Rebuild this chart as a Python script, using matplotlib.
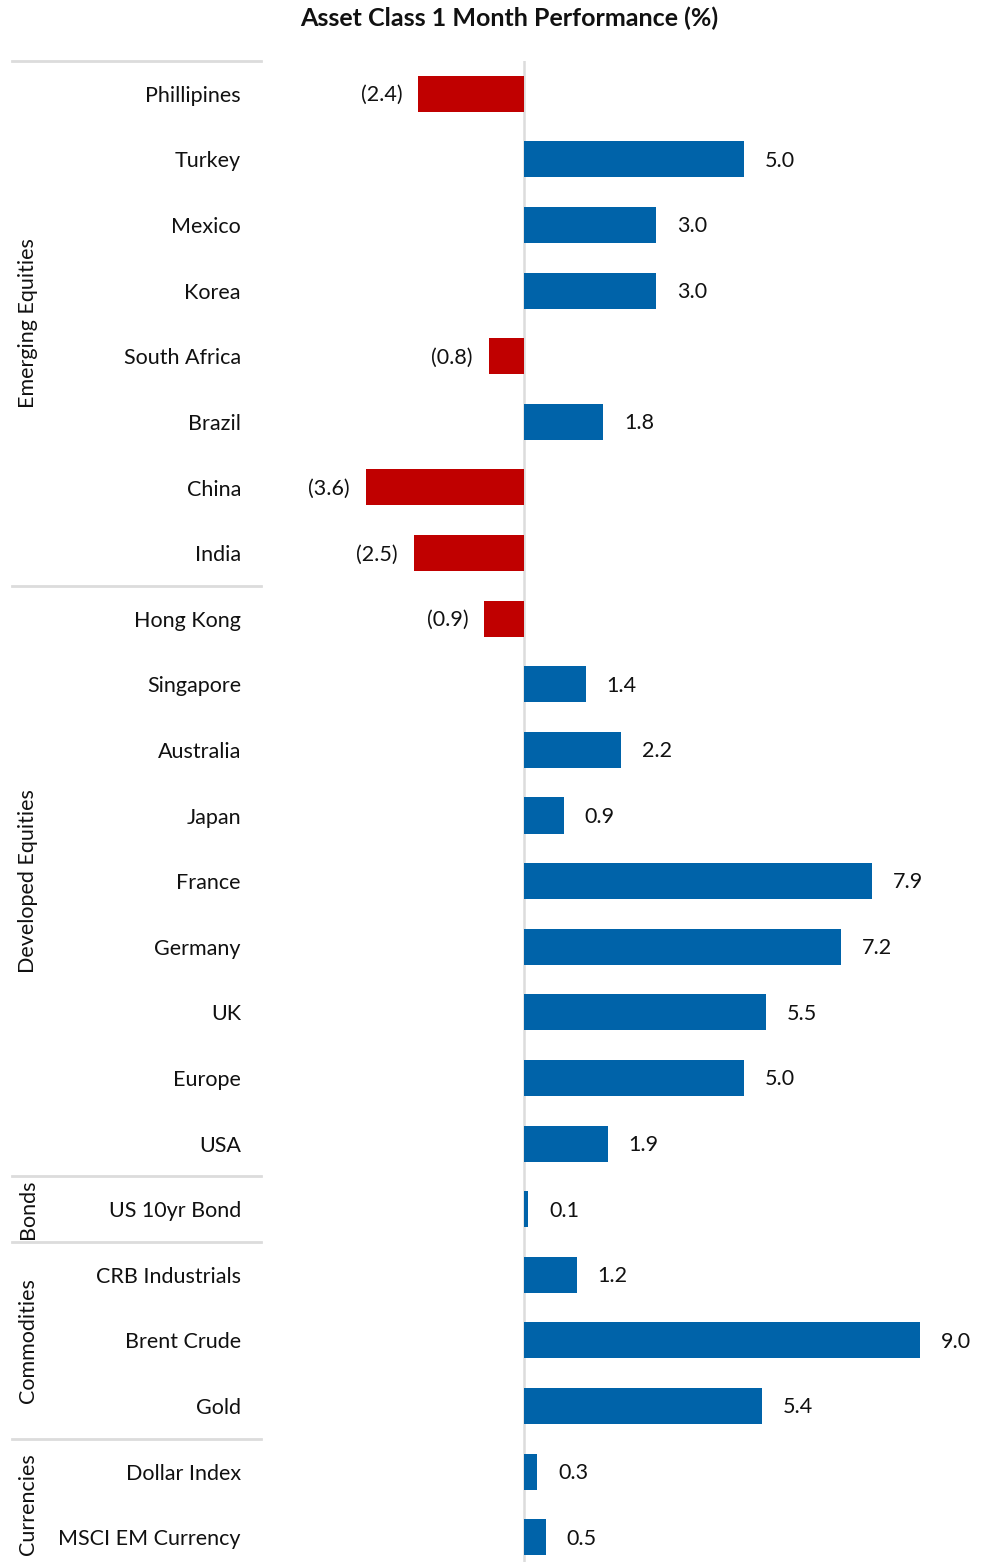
import matplotlib
matplotlib.use("Agg")
import matplotlib.pyplot as plt
import matplotlib.transforms as mtrans

plt.rcParams['font.family'] = ['Lato', 'DejaVu Sans']

categories = ["Phillipines", "Turkey", "Mexico", "Korea", "South Africa", "Brazil",
              "China", "India", "Hong Kong", "Singapore", "Australia", "Japan",
              "France", "Germany", "UK", "Europe", "USA", "US 10yr Bond",
              "CRB Industrials", "Brent Crude", "Gold", "Dollar Index", "MSCI EM Currency"]
values = [-2.4, 5.0, 3.0, 3.0, -0.8, 1.8, -3.6, -2.5, -0.9, 1.4, 2.2, 0.9,
          7.9, 7.2, 5.5, 5.0, 1.9, 0.1, 1.2, 9.0, 5.4, 0.3, 0.5]
groups = ["Emerging Equities", "Developed Equities", "Bonds", "Commodities", "Currencies"]
group_sizes = [8, 9, 1, 3, 2]
title = "Asset Class 1 Month Performance (%)"

POS = "#0063A9"
NEG = "#C00000"
GRID = "#DCDCDC"
FS = 15.5

W, H = 987, 1562
fig = plt.figure(figsize=(W / 100, H / 100), dpi=100)
ax_left, ax_right, ax_top, ax_bot = 260, 980, 61, 1570
ax = fig.add_axes([ax_left / W, (H - ax_bot) / H, (ax_right - ax_left) / W, (ax_bot - ax_top) / H])

n = len(categories)
ypos = list(range(n))
colors = [POS if v >= 0 else NEG for v in values]
ax.barh(ypos, values, height=0.55, color=colors, zorder=2)
ax.axvline(0, color=GRID, lw=1.8, zorder=1)

px_per_unit = 44.0
ax.set_xlim(-(524 - ax_left) / px_per_unit, (ax_right - 524) / px_per_unit)
ax.set_ylim(n - 0.5, -0.5)
ax.axis('off')

for y, v in zip(ypos, values):
    if v >= 0:
        ax.annotate(f"{v:.1f}", (v, y), xytext=(15, -1), textcoords='offset points',
                    ha='left', va='center', fontsize=FS, color='#111111')
    else:
        ax.annotate(f"({abs(v):.1f})", (v, y), xytext=(-11.5, -1), textcoords='offset points',
                    ha='right', va='center', fontsize=FS, color='#111111')

blend = mtrans.blended_transform_factory(fig.transFigure, ax.transData)
blend_lab = mtrans.offset_copy(blend, fig=fig, y=-1.5, units='points')
for y, c in zip(ypos, categories):
    fig.text(241 / W, y, c, transform=blend_lab, ha='right', va='center', fontsize=FS, color='#111111')

start = 0
boundaries = [-0.5]
for g, s in zip(groups, group_sizes):
    center = start + (s - 1) / 2
    fig.text(28 / W, center, g, transform=blend, rotation=90, ha='center', va='center',
             fontsize=FS, color='#111111')
    start += s
    boundaries.append(start - 0.5)

for b in boundaries[:-1]:
    line = plt.Line2D([12 / W, 261 / W], [b, b], transform=blend, color=GRID, lw=2)
    fig.add_artist(line)

fig.text(509 / W, 1 - 18 / H, title, ha='center', va='center', fontsize=18,
         fontweight='bold', color='#111111')

fig.savefig("out.png", dpi=100)
